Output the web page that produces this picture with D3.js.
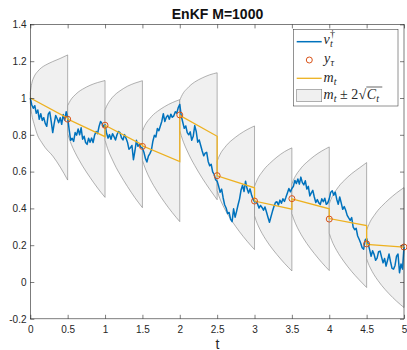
<!DOCTYPE html>
<html>
<head>
<meta charset="utf-8">
<script src="https://cdn.jsdelivr.net/npm/d3@7"></script>
<style>
  body { margin: 0; background: #fff; }
  svg { display: block; font-family: "Liberation Sans", Arial, sans-serif; }
</style>
</head>
<body>
<div id="canvas"></div>
<script>
// tick values
const xTicks = [0, 0.5, 1, 1.5, 2, 2.5, 3, 3.5, 4, 4.5, 5];
const yTicks = [-0.2, 0, 0.2, 0.4, 0.6, 0.8, 1, 1.2, 1.4];

// band m_t +/- 2 sqrt(C_t), one fill per assimilation window
const segStarts = [0, 0.5, 1, 1.5, 2, 2.5, 3, 3.5, 4, 4.5];
const bandOffsets = [0, 0.02, 0.05, 0.1, 0.15, 0.2, 0.3, 0.4, 0.5];
const bandUpper = [
  [1.03, 1.08, 1.115, 1.145, 1.165, 1.178, 1.198, 1.215, 1.234],
  [0.958, 0.975, 0.995, 1.017, 1.035, 1.048, 1.069, 1.084, 1.095],
  [0.935, 0.955, 0.977, 1.004, 1.024, 1.039, 1.064, 1.081, 1.094],
  [0.82, 0.84, 0.863, 0.889, 0.911, 0.927, 0.954, 0.975, 0.991],
  [0.987, 1.007, 1.029, 1.052, 1.072, 1.087, 1.109, 1.126, 1.137],
  [0.657, 0.677, 0.702, 0.73, 0.754, 0.772, 0.803, 0.828, 0.848],
  [0.52, 0.541, 0.567, 0.597, 0.623, 0.643, 0.679, 0.708, 0.729],
  [0.532, 0.553, 0.578, 0.607, 0.632, 0.651, 0.685, 0.712, 0.734],
  [0.425, 0.447, 0.473, 0.504, 0.531, 0.552, 0.589, 0.619, 0.649],
  [0.282, 0.303, 0.33, 0.361, 0.389, 0.411, 0.45, 0.484, 0.513]
];
const bandLower = [
  [0.975, 0.91, 0.86, 0.795, 0.76, 0.73, 0.685, 0.625, 0.554],
  [0.806, 0.78, 0.747, 0.703, 0.665, 0.63, 0.568, 0.511, 0.46],
  [0.771, 0.743, 0.708, 0.663, 0.621, 0.585, 0.519, 0.458, 0.404],
  [0.662, 0.637, 0.605, 0.561, 0.524, 0.491, 0.431, 0.377, 0.328],
  [0.823, 0.795, 0.759, 0.712, 0.67, 0.633, 0.565, 0.504, 0.447],
  [0.497, 0.471, 0.44, 0.398, 0.362, 0.33, 0.273, 0.222, 0.176],
  [0.36, 0.335, 0.305, 0.265, 0.231, 0.201, 0.149, 0.102, 0.06],
  [0.372, 0.347, 0.316, 0.275, 0.24, 0.209, 0.155, 0.106, 0.062],
  [0.265, 0.24, 0.21, 0.171, 0.138, 0.109, 0.057, 0.012, -0.03],
  [0.127, 0.103, 0.076, 0.039, 0.009, -0.018, -0.064, -0.104, -0.139]
];

// true signal v_t, sampled every 0.02
const truthStep = 0.02;
const truthValues = [
  1.000, 0.962, 0.944, 0.958, 0.917, 0.935, 0.884, 0.915, 0.878, 0.893, 0.862, 0.846, 0.912,
  0.924, 0.872, 0.812, 0.862, 0.905, 0.887, 0.866, 0.893, 0.857, 0.910, 0.880, 0.925, 0.893,
  0.828, 0.770, 0.781, 0.764, 0.812, 0.798, 0.832, 0.800, 0.838, 0.776, 0.792, 0.758, 0.748,
  0.781, 0.760, 0.782, 0.758, 0.797, 0.818, 0.806, 0.845, 0.872, 0.862, 0.843, 0.855,
  0.810, 0.782, 0.801, 0.776, 0.806, 0.790, 0.772, 0.800, 0.818, 0.812, 0.784, 0.772, 0.801,
  0.782, 0.760, 0.722, 0.730, 0.742, 0.665, 0.712, 0.770, 0.738, 0.748, 0.732, 0.728,
  0.705, 0.672, 0.652, 0.684, 0.698, 0.716, 0.765, 0.797, 0.788, 0.834, 0.822, 0.848, 0.874,
  0.915, 0.872, 0.896, 0.906, 0.885, 0.912, 0.895, 0.903, 0.925, 0.918, 0.948, 0.965,
  0.902, 0.868, 0.835, 0.848, 0.812, 0.800, 0.816, 0.770, 0.792, 0.850, 0.818, 0.760, 0.772,
  0.742, 0.712, 0.686, 0.700, 0.705, 0.655, 0.632, 0.640, 0.598, 0.585, 0.556, 0.548,
  0.520, 0.488, 0.505, 0.458, 0.420, 0.402, 0.372, 0.378, 0.340, 0.328, 0.398, 0.352, 0.384,
  0.420, 0.452, 0.500, 0.526, 0.492, 0.548, 0.508, 0.484, 0.506, 0.474, 0.450, 0.436,
  0.438, 0.425, 0.402, 0.416, 0.405, 0.390, 0.408, 0.380, 0.352, 0.325, 0.355, 0.384, 0.410,
  0.432, 0.436, 0.418, 0.445, 0.428, 0.452, 0.438, 0.460, 0.484, 0.508, 0.490, 0.508,
  0.520, 0.552, 0.535, 0.560, 0.532, 0.570, 0.540, 0.528, 0.550, 0.505, 0.520, 0.468, 0.484,
  0.498, 0.462, 0.432, 0.448, 0.430, 0.422, 0.452, 0.436, 0.455, 0.422, 0.430, 0.452,
  0.488, 0.496, 0.472, 0.488, 0.450, 0.422, 0.462, 0.430, 0.395, 0.410, 0.390, 0.362, 0.348,
  0.335, 0.350, 0.298, 0.284, 0.292, 0.250, 0.232, 0.212, 0.186, 0.178, 0.228, 0.236,
  0.208, 0.176, 0.140, 0.170, 0.150, 0.118, 0.130, 0.165, 0.168, 0.135, 0.104, 0.128, 0.086,
  0.118, 0.152, 0.110, 0.074, 0.070, 0.090, 0.140, 0.152, 0.050, 0.098, 0.070, 0.190
];

// observations y_tau
const obsTimes = [0.5, 1, 1.5, 2, 2.5, 3, 3.5, 4, 4.5, 5];
const obsValues = [0.885, 0.852, 0.737, 0.908, 0.578, 0.44, 0.453, 0.342, 0.207, 0.19];

// filter mean m_t (jumps at each observation)
const meanTimes = [0, 0.5, 0.5, 1, 1, 1.5, 1.5, 2, 2, 2.5, 2.5, 3, 3, 3.5, 3.5, 4, 4, 4.5, 4.5, 5, 5];
const meanValues = [1.0, 0.89, 0.885, 0.79, 0.852, 0.745, 0.74, 0.655, 0.905, 0.792, 0.577,
  0.512, 0.44, 0.396, 0.452, 0.398, 0.345, 0.307, 0.205, 0.19, 0.19];

const W = 407, H = 350;
const margin = { top: 24.4, right: 3, bottom: 31.2, left: 30.3 };
const width = W - margin.left - margin.right;
const height = H - margin.top - margin.bottom;
const axisColor = "#262626";

const svg = d3.select("#canvas").append("svg")
  .attr("width", W)
  .attr("height", H);

const g = svg.append("g")
  .attr("transform", "translate(" + margin.left + "," + margin.top + ")");

const x = d3.scaleLinear().domain([0, 5]).range([0, width]);
const y = d3.scaleLinear().domain([-0.2, 1.4]).range([height, 0]);

// shaded uncertainty band
const area = d3.area()
  .curve(d3.curveMonotoneX)
  .x(d => x(d.t))
  .y0(d => y(d.lo))
  .y1(d => y(d.hi));

segStarts.forEach((t0, i) => {
  const pts = bandOffsets.map((s, j) => ({ t: t0 + s, lo: bandLower[i][j], hi: bandUpper[i][j] }));
  g.append("path")
    .datum(pts)
    .attr("d", area)
    .attr("fill", "#f0f0f0")
    .attr("stroke", "#808080")
    .attr("stroke-width", 0.6);
});

// truth
const truth = truthValues.map((v, i) => [i * truthStep, v]);
g.append("path")
  .datum(truth)
  .attr("d", d3.line().x(d => x(d[0])).y(d => y(d[1])))
  .attr("fill", "none")
  .attr("stroke", "#0072BD")
  .attr("stroke-width", 1.5)
  .attr("stroke-linejoin", "round");

// mean
g.append("path")
  .datum(meanTimes.map((t, i) => [t, meanValues[i]]))
  .attr("d", d3.line().x(d => x(d[0])).y(d => y(d[1])))
  .attr("fill", "none")
  .attr("stroke", "#EDB120")
  .attr("stroke-width", 1.3);

// observations
g.selectAll("circle.obs")
  .data(obsTimes)
  .enter()
  .append("circle")
  .attr("class", "obs")
  .attr("cx", d => x(d))
  .attr("cy", (d, i) => y(obsValues[i]))
  .attr("r", 3)
  .attr("fill", "none")
  .attr("stroke", "#D95319")
  .attr("stroke-width", 1);

// axes (ticks point inward)
const fmt = d => String(d);
function styleAxis(sel, keepText) {
  sel.select(".domain").remove();
  sel.selectAll(".tick line").attr("stroke", axisColor).attr("stroke-width", 0.6);
  if (keepText) {
    sel.selectAll(".tick text").attr("fill", axisColor).attr("font-size", 10)
      .attr("font-family", "'Liberation Sans', Arial, sans-serif");
  } else {
    sel.selectAll(".tick text").remove();
  }
}

g.append("g")
  .attr("transform", "translate(0," + height + ")")
  .call(d3.axisBottom(x).tickValues(xTicks).tickFormat(fmt).tickSizeInner(-4).tickSizeOuter(0).tickPadding(7.6))
  .call(s => styleAxis(s, true));

g.append("g")
  .call(d3.axisTop(x).tickValues(xTicks).tickSizeInner(-4).tickSizeOuter(0))
  .call(s => styleAxis(s, false));

g.append("g")
  .call(d3.axisLeft(y).tickValues(yTicks).tickFormat(fmt).tickSizeInner(-4).tickSizeOuter(0).tickPadding(3.8))
  .call(s => styleAxis(s, true));

g.append("g")
  .attr("transform", "translate(" + width + ",0)")
  .call(d3.axisRight(y).tickValues(yTicks).tickSizeInner(-4).tickSizeOuter(0))
  .call(s => styleAxis(s, false));

g.append("rect")
  .attr("x", 0).attr("y", 0)
  .attr("width", width).attr("height", height)
  .attr("fill", "none")
  .attr("stroke", axisColor)
  .attr("stroke-width", 0.6);

// title and label
svg.append("text")
  .attr("x", 217.5).attr("y", 18.5)
  .attr("text-anchor", "middle")
  .attr("font-size", 14).attr("font-weight", "bold")
  .attr("fill", "#111")
  .text("EnKF M=1000");

svg.append("text")
  .attr("x", 217.5).attr("y", 348.5)
  .attr("text-anchor", "middle")
  .attr("font-size", 14)
  .attr("fill", axisColor)
  .text("t");

// legend
const lg = svg.append("g");
lg.append("rect")
  .attr("x", 293.5).attr("y", 29.5)
  .attr("width", 104.5).attr("height", 76.5)
  .attr("fill", "#fff")
  .attr("stroke", axisColor)
  .attr("stroke-width", 0.5);

lg.append("line").attr("x1", 296.7).attr("x2", 321.7).attr("y1", 41.7).attr("y2", 41.7)
  .attr("stroke", "#0072BD").attr("stroke-width", 1.5);
lg.append("circle").attr("cx", 309.3).attr("cy", 60).attr("r", 3)
  .attr("fill", "none").attr("stroke", "#D95319").attr("stroke-width", 1);
lg.append("line").attr("x1", 296.7).attr("x2", 321.7).attr("y1", 78.3).attr("y2", 78.3)
  .attr("stroke", "#EDB120").attr("stroke-width", 1.3);
lg.append("rect").attr("x", 296.7).attr("y", 89.3).attr("width", 25).attr("height", 12.4)
  .attr("fill", "#f0f0f0").attr("stroke", "#808080").attr("stroke-width", 0.6);

function mathText(x0, base, parts) {
  let cx = x0;
  parts.forEach(p => {
    const t = lg.append("text")
      .attr("x", cx)
      .attr("y", base + (p.dy || 0))
      .attr("font-family", "'Liberation Serif', 'Times New Roman', serif")
      .attr("font-style", p.it ? "italic" : "normal")
      .attr("font-size", p.size || 14)
      .attr("fill", "#262626")
      .text(p.s);
    const w = t.node().getComputedTextLength();
    if (p.over) {
      lg.append("line")
        .attr("x1", cx - 0.5).attr("x2", cx + p.over)
        .attr("y1", base - 12.3).attr("y2", base - 12.3)
        .attr("stroke", "#262626").attr("stroke-width", 0.7);
    }
    if (!p.stay) cx += w + (p.gap || 0);
  });
}

mathText(323.5, 44, [
  { s: "v", it: true, gap: 0.2 },
  { s: "t", it: true, size: 10, dy: 3, stay: true },
  { s: "\u2020", size: 10, dy: -6.8 }
]);
mathText(324, 62.5, [
  { s: "y", it: true, gap: 0.2 },
  { s: "\u03C4", it: true, size: 10, dy: 3 }
]);
mathText(323.5, 81.7, [
  { s: "m", it: true, gap: 0.2 },
  { s: "t", it: true, size: 10, dy: 3 }
]);
mathText(323.5, 99.3, [
  { s: "m", it: true, gap: 0.2 },
  { s: "t", it: true, size: 10, dy: 3, gap: 3.5 },
  { s: "\u00B1", gap: 3.5 },
  { s: "2", gap: 0.3 },
  { s: "\u221A", gap: 0.5 },
  { s: "C", it: true, over: 15.5 },
  { s: "t", it: true, size: 10, dy: 3 }
]);
</script>
</body>
</html>
